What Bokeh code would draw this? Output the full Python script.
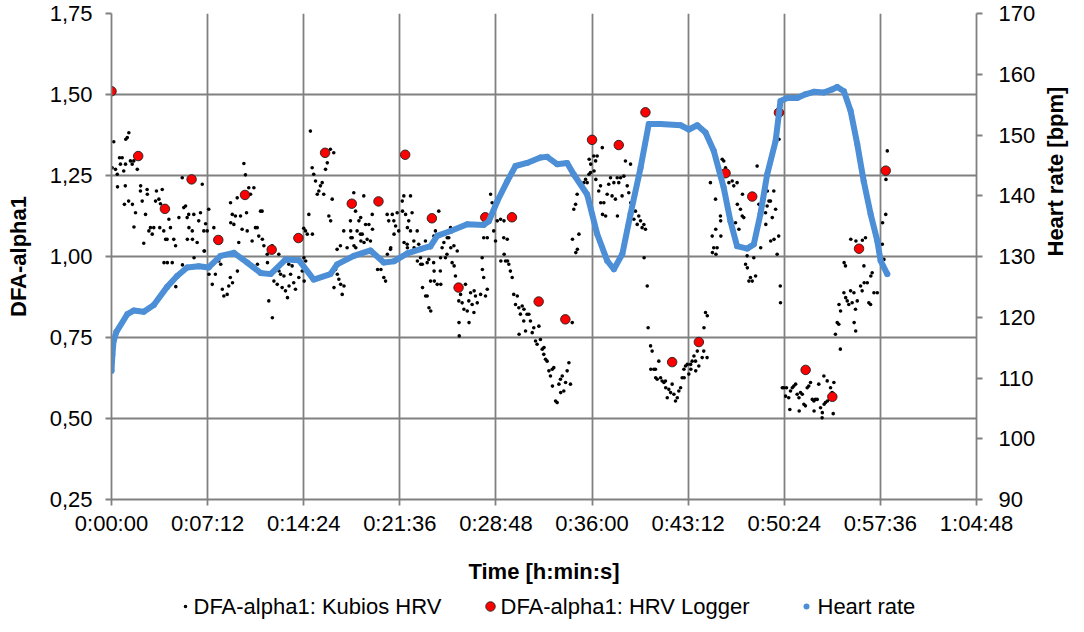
import math
from bokeh.plotting import figure
from bokeh.layouts import column
from bokeh.models import Range1d, LinearAxis, FixedTicker, ColumnDataSource
from bokeh.core.properties import value
from bokeh.embed import file_html
from bokeh.resources import INLINE

# ---------------- data ----------------
x_ticks = [0, 432, 864, 1296, 1728, 2160, 2592, 3024, 3456, 3888]
x_tick_labels = ["0:00:00", "0:07:12", "0:14:24", "0:21:36", "0:28:48",
                 "0:36:00", "0:43:12", "0:50:24", "0:57:36", "1:04:48"]
y_ticks = [0.25, 0.5, 0.75, 1.0, 1.25, 1.5, 1.75]
y_tick_labels = ["0,25", "0,50", "0,75", "1,00", "1,25", "1,50", "1,75"]
hr_ticks = [90, 100, 110, 120, 130, 140, 150, 160, 170]
legend_labels = ["DFA-alpha1: Kubios HRV", "DFA-alpha1: HRV Logger", "Heart rate"]

# DFA-alpha1 from HRV Logger (time in s, value)
logger_t = [0, 120, 240, 360, 480, 600, 720, 840, 960, 1080, 1200, 1320, 1440, 1560, 1680,
            1800, 1920, 2040, 2160, 2280, 2400, 2520, 2640, 2760, 2880, 3000, 3120, 3240, 3360, 3480]
logger_v = [1.51, 1.31, 1.147, 1.238, 1.051, 1.19, 1.021, 1.057, 1.32, 1.163, 1.17, 1.314, 1.118, 0.904, 1.121,
            1.121, 0.861, 0.806, 1.36, 1.344, 1.445, 0.674, 0.736, 1.257, 1.185, 1.444, 0.65, 0.567, 1.024, 1.265]

# Heart rate (time in s, bpm)
hr_t = [0, 4, 9, 22, 71, 100, 145, 190, 250, 295, 340, 392, 437, 490, 550, 610, 670, 715, 782, 842,
        909, 984, 1014, 1089, 1164, 1224, 1269, 1329, 1389, 1434, 1464, 1524, 1599, 1673, 1696, 1734,
        1779, 1816, 1868, 1928, 1958, 2003, 2048, 2078, 2138, 2183, 2228, 2258, 2296, 2333, 2378, 2415,
        2468, 2558, 2595, 2633, 2670, 2707, 2752, 2782, 2812, 2857, 2887, 2917, 2947, 2985, 3007, 3037,
        3082, 3119, 3157, 3202, 3239, 3262, 3292, 3322, 3352, 3381, 3412, 3442, 3457, 3487]
hr_v = [111.2, 113.8, 116.0, 117.6, 120.5, 121.1, 120.9, 122.0, 125.0, 126.8, 128.2, 128.4, 128.2, 130.1,
        130.6, 129.0, 127.3, 127.1, 129.5, 129.4, 126.2, 127.1, 128.7, 130.1, 131.0, 129.0, 129.2, 130.5,
        131.2, 131.7, 133.4, 134.2, 135.3, 135.2, 135.8, 139.1, 142.4, 144.9, 145.4, 146.3, 146.4, 145.2,
        145.4, 143.5, 140.2, 133.7, 129.3, 127.9, 130.4, 137.0, 144.6, 151.8, 151.8, 151.6, 150.9, 151.6,
        150.4, 147.4, 141.3, 135.8, 131.7, 131.3, 132.0, 137.0, 143.5, 149.0, 155.6, 156.1, 156.1, 156.7,
        157.1, 157.0, 157.5, 157.9, 157.2, 154.0, 148.5, 142.4, 137.0, 132.6, 129.3, 127.1]

# DFA-alpha1 from Kubios HRV: (time in s, value) pairs
kubios_points = [
    (10, 1.354), (3, 1.274), (18, 1.269), (26, 1.254), (27, 1.215), (36, 1.305), (48, 1.305), (40, 1.285), (55, 1.264), (63, 1.285),
    (71, 1.367), (78, 1.382), (64, 1.362), (85, 1.295), (93, 1.285), (100, 1.295), (62, 1.218), (58, 1.161), (77, 1.171), (94, 1.161),
    (101, 1.091), (108, 1.135), (116, 1.269), (130, 1.202), (131, 1.218), (138, 1.171), (145, 1.041), (153, 1.13), (160, 1.207), (161, 1.192),
    (168, 1.079), (175, 1.089), (183, 1.069), (190, 1.089), (198, 1.171), (202, 1.202), (213, 1.177), (217, 1.089), (220, 1.163), (228, 1.207),
    (235, 1.079), (243, 1.053), (250, 1.053), (258, 1.115), (265, 1.089), (280, 1.053), (288, 1.033), (303, 1.12), (318, 1.243), (325, 1.151),
    (333, 1.156), (340, 1.12), (341, 1.053), (347, 1.13), (348, 1.089), (363, 1.079), (364, 1.053), (370, 1.13), (385, 1.043), (392, 1.11),
    (400, 1.135), (408, 1.223), (415, 1.079), (418, 1.017), (423, 1.101), (430, 1.079),
    (236, 0.981), (251, 0.981), (273, 0.981), (289, 0.907), (319, 0.974), (371, 0.996), (416, 1.017),
    (437, 1.146), (460, 1.089), (475, 1.048), (490, 1.043), (535, 1.166), (536, 1.104), (543, 1.13), (550, 1.099), (557, 1.125), (565, 1.181),
    (572, 1.043), (580, 1.125), (587, 1.084), (595, 1.287), (602, 1.252), (607, 1.135), (610, 1.079), (617, 1.212), (625, 1.192), (632, 1.048),
    (640, 1.212), (647, 1.089), (655, 1.089), (662, 1.063), (670, 1.14), (677, 1.14), (678, 1.053), (685, 1.033), (700, 1.007), (722, 1.033),
    (752, 1.007), (790, 0.986), (797, 0.976), (812, 0.971), (864, 1.087), (872, 1.079), (865, 0.996), (873, 0.986),
    (438, 0.945), (453, 0.914), (467, 0.945), (482, 0.986), (491, 0.976), (498, 0.899), (505, 0.878), (520, 0.883), (527, 0.909), (534, 0.935),
    (544, 0.919), (566, 0.955), (656, 0.976), (701, 0.981), (707, 0.863), (723, 0.811), (730, 0.924), (745, 0.914), (760, 0.945), (767, 0.904),
    (782, 0.894), (791, 0.873), (798, 0.909), (805, 0.945), (819, 0.919), (827, 0.899), (842, 0.935), (857, 0.955), (866, 0.924), (775, 0.94), (753, 0.955),
    (894, 1.387), (902, 1.274), (909, 1.254), (917, 1.233), (925, 1.192), (932, 1.202), (939, 1.218), (947, 1.228), (954, 1.192), (962, 1.269),
    (970, 1.289), (984, 1.331), (999, 1.32), (977, 1.125), (985, 1.11), (992, 1.177), (887, 1.13), (880, 1.069), (903, 1.069), (1014, 1.022),
    (1029, 1.033), (1044, 1.079), (1059, 1.027), (1074, 1.11), (1082, 1.058), (1089, 1.197), (1097, 1.14), (1104, 1.079), (1112, 1.11), (1119, 1.069),
    (1000, 0.904), (1015, 0.945), (1022, 0.93), (1030, 0.914), (1037, 0.883), (1045, 0.909), (1007, 0.96),
    (1120, 1.12), (1134, 1.187), (1142, 1.099), (1157, 1.099), (1172, 1.13), (1173, 1.084), (1075, 1.079), (1076, 1.058), (1090, 1.033), (1098, 1.027),
    (1121, 1.048), (1127, 1.069), (1135, 1.043), (1149, 1.053), (1164, 1.048), (1239, 1.13), (1246, 1.11), (1254, 1.022), (1262, 1.13), (1269, 1.11),
    (1277, 1.094), (1284, 1.135), (1291, 1.079), (1307, 1.171), (1314, 1.187), (1322, 1.13), (1329, 1.038), (1336, 1.11), (1344, 1.187), (1351, 1.135),
    (1359, 1.048), (1374, 1.079), (1381, 1.038), (1389, 0.996), (1397, 0.976), (1411, 1.048), (1419, 0.981), (1426, 0.991), (1434, 1.027), (1449, 1.063),
    (1456, 1.079), (1471, 1.14), (1479, 0.996), (1486, 1.027), (1494, 1.043), (1509, 1.058), (1524, 1.089),
    (1196, 0.96), (1211, 0.96), (1224, 0.935), (1232, 0.924), (1240, 1.007), (1255, 1.027), (1270, 1.069), (1315, 1.043), (1330, 1.027), (1360, 1.027),
    (1375, 0.986), (1390, 0.976), (1398, 0.904), (1412, 0.878), (1427, 0.842), (1435, 0.832), (1450, 0.955), (1451, 0.924), (1480, 0.914), (1501, 0.996),
    (1525, 1.027), (1531, 0.981), (1516, 1.058), (1308, 1.14), (1330, 1.089), (1344, 1.079), (1539, 1.033), (1554, 1.017),
    (1419, 0.878), (1434, 0.924), (1448, 0.981), (1464, 0.914), (1478, 0.955), (1508, 1.007), (1540, 0.971), (1546, 0.94), (1561, 0.863),
    (1562, 0.796), (1563, 0.755), (1569, 0.883), (1576, 0.857), (1584, 0.837), (1591, 0.914), (1599, 0.832), (1606, 0.863), (1607, 0.796), (1614, 0.888),
    (1621, 0.852), (1629, 0.827), (1630, 0.894), (1636, 0.878), (1644, 0.857), (1659, 0.883), (1666, 0.996), (1667, 0.96), (1673, 0.935), (1681, 0.878), (1689, 0.899),
    (1673, 1.058), (1689, 1.058), (1704, 1.192), (1711, 1.166), (1718, 1.079), (1726, 1.048), (1734, 1.11), (1749, 1.115), (1763, 1.058), (1764, 1.11), (1779, 1.053), (1771, 0.986),
    (1750, 0.986), (1765, 1.007), (1780, 0.986), (1786, 0.976), (1793, 0.955), (1801, 0.935), (1808, 0.883), (1816, 0.852), (1824, 0.878), (1831, 0.842),
    (1838, 0.822), (1846, 0.847), (1853, 0.801), (1832, 0.76), (1861, 0.77), (1868, 0.822), (1876, 0.822), (1883, 0.801), (1891, 0.765), (1898, 0.78),
    (1906, 0.739), (1913, 0.729), (1921, 0.785), (1928, 0.744), (1936, 0.714), (1943, 0.698), (1951, 0.683), (1958, 0.677), (1966, 0.647), (1973, 0.631),
    (1981, 0.652), (1988, 0.657), (1996, 0.554), (2003, 0.549), (2011, 0.606), (2018, 0.621), (2026, 0.631), (2033, 0.585), (2041, 0.611), (2048, 0.647),
    (2056, 0.672), (2063, 0.606), (2071, 0.796), (1982, 0.6), (2019, 0.58), (1944, 0.719), (1854, 0.837),
    (2078, 1.146), (2086, 1.161), (2093, 1.192), (2072, 1.053), (2101, 1.069), (2087, 1.012), (2094, 1.022), (2123, 1.228), (2131, 1.238), (2138, 1.228),
    (2146, 1.254), (2153, 1.259), (2147, 1.3), (2154, 1.285), (2168, 1.31), (2176, 1.295), (2183, 1.31), (2169, 1.264), (2177, 1.238), (2190, 1.202),
    (2198, 1.218), (2206, 1.336), (2207, 1.13), (2221, 1.125), (2228, 1.192), (2235, 1.223), (2243, 1.243), (2250, 1.187), (2258, 1.228), (2265, 1.177),
    (2273, 1.243), (2274, 1.125), (2280, 1.228), (2288, 1.243), (2295, 1.187), (2303, 1.248), (2310, 1.295), (2318, 1.218), (2325, 1.197), (2333, 1.285),
    (2334, 1.166), (2340, 1.146), (2348, 1.115), (2355, 1.14), (2363, 1.099), (2370, 1.125), (2378, 1.11), (2385, 1.089), (2393, 1.099), (2400, 1.084),
    (2394, 0.996), (2408, 0.909), (2412, 0.78), (2199, 1.166), (2213, 1.166),
    (2423, 0.724), (2430, 0.708), (2424, 0.652), (2438, 0.652), (2445, 0.652), (2460, 0.677), (2446, 0.626), (2453, 0.621), (2468, 0.626), (2475, 0.616),
    (2483, 0.611), (2490, 0.616), (2491, 0.595), (2498, 0.564), (2505, 0.59), (2513, 0.58), (2520, 0.606), (2528, 0.575), (2535, 0.554), (2543, 0.564),
    (2550, 0.585), (2558, 0.595), (2565, 0.626), (2573, 0.652), (2580, 0.662), (2595, 0.637), (2588, 0.667), (2603, 0.667), (2610, 0.677), (2618, 0.693),
    (2625, 0.677), (2633, 0.708), (2640, 0.662), (2574, 0.626), (2604, 0.652), (2626, 0.647), (2655, 0.688), (2662, 0.708), (2677, 0.688), (2663, 0.78),
    (2670, 0.827), (2678, 0.817),
    (2692, 1.228), (2715, 1.177), (2737, 1.125), (2738, 1.11), (2745, 1.3), (2752, 1.295), (2760, 1.274), (2767, 1.264), (2775, 1.228), (2790, 1.233),
    (2797, 1.218), (2812, 1.228), (2700, 1.063), (2716, 1.084), (2739, 1.063), (2813, 1.161), (2827, 1.146), (2835, 1.125), (2842, 1.12), (2820, 1.084),
    (2857, 1.002), (2887, 0.996), (2858, 0.965), (2872, 0.935), (2865, 0.924), (2880, 0.924), (2895, 0.94), (2902, 1.279), (2910, 1.161), (2917, 1.146),
    (2932, 1.181), (2940, 1.135), (2947, 1.156), (2962, 1.171), (2970, 1.12), (2977, 1.202), (2985, 1.146), (2941, 1.099), (2918, 1.027), (2978, 1.053),
    (2999, 1.063), (2992, 1.007), (3000, 1.362), (2707, 1.027), (2701, 1.012), (2722, 1.027), (2717, 1.007), (2805, 1.104), (2836, 1.192), (2948, 1.202),
    (2955, 1.171), (2963, 1.048), (2850, 0.976), (3006, 0.909), (3007, 0.857),
    (3015, 0.595), (3022, 0.595), (3034, 0.595), (3030, 0.569), (3044, 0.564), (3052, 0.585), (3049, 0.528), (3060, 0.595), (3067, 0.6), (3075, 0.606),
    (3082, 0.575), (3090, 0.564), (3091, 0.523), (3097, 0.58), (3105, 0.575), (3112, 0.544), (3119, 0.539), (3127, 0.595), (3134, 0.6), (3142, 0.611),
    (3150, 0.559), (3157, 0.554), (3164, 0.559), (3158, 0.523), (3172, 0.559), (3179, 0.606), (3187, 0.533), (3194, 0.502), (3195, 0.518), (3202, 0.631),
    (3203, 0.544), (3209, 0.549), (3217, 0.616), (3218, 0.554), (3232, 0.595), (3239, 0.58), (3247, 0.611), (3244, 0.515),
    (3254, 0.76), (3276, 0.714), (3262, 0.796), (3269, 0.791), (3270, 0.852), (3277, 0.832), (3292, 0.888), (3299, 0.971), (3300, 0.873), (3307, 0.863),
    (3314, 0.852), (3322, 0.894), (3329, 0.857), (3337, 0.888), (3344, 0.837), (3338, 0.796), (3345, 0.77), (3352, 0.863), (3367, 0.909), (3374, 0.894),
    (3382, 0.971), (3383, 0.919), (3397, 0.919), (3404, 0.857), (3412, 0.852), (3413, 0.94), (3419, 0.95), (3427, 0.888), (3442, 0.888),
    (3368, 1.027), (3389, 1.058), (3465, 1.038), (3472, 0.991), (3480, 1.13), (3487, 1.326), (3481, 1.238), (3323, 1.053), (3346, 1.048), (3375, 1.05),
    (3293, 0.981), (3466, 1.104),
]
kubios_t = [pt[0] for pt in kubios_points]
kubios_v = [pt[1] for pt in kubios_points]

# ---------------- styling ----------------
FONT = "Liberation Sans"
GRID = "#808080"
BLUE = "#4C8FD6"
RED = "#FF0000"
W = 1084
BORDER_L, BORDER_R = 111, 108
LEG_H = 40

p = figure(width=W, height=632 - LEG_H,
           min_border_left=BORDER_L, min_border_right=BORDER_R, min_border_top=13, min_border_bottom=93,
           x_range=Range1d(0, 3888), y_range=Range1d(0.25, 1.75),
           output_backend="svg", toolbar_location=None)
p.outline_line_color = None
p.extra_y_ranges = {"hr": Range1d(90, 170)}

src_k = ColumnDataSource(dict(t=kubios_t, v=kubios_v))
src_l = ColumnDataSource(dict(t=logger_t, v=logger_v))
src_h = ColumnDataSource(dict(t=hr_t, v=hr_v))

p.scatter("t", "v", source=src_k, size=3.6, color="black", line_color=None)
p.scatter("t", "v", source=src_l, size=9.5, fill_color=RED, line_color="#202020", line_width=0.9)
p.line("t", "v", source=src_h, y_range_name="hr", color=BLUE, line_width=6, line_join="round", line_cap="round")
p.scatter("t", "v", source=src_h, y_range_name="hr", size=6, color=BLUE, line_color=None)

xa = p.xaxis[0]
xa.ticker = FixedTicker(ticks=x_ticks)
xa.major_label_overrides = {t: lab for t, lab in zip(x_ticks, x_tick_labels)}
xa.axis_label = "Time [h:min:s]"
xa.major_label_standoff = 5
xa.axis_label_standoff = 20

ya = p.yaxis[0]
ya.ticker = FixedTicker(ticks=y_ticks)
ya.major_label_overrides = {t: lab for t, lab in zip(y_ticks, y_tick_labels)}
ya.axis_label = "DFA-alpha1"
ya.major_label_standoff = 13
ya.axis_label_standoff = 16

ra = LinearAxis(y_range_name="hr", ticker=FixedTicker(ticks=hr_ticks), axis_label="Heart rate [bpm]")
ra.axis_label_orientation = math.pi / 2
ra.major_label_standoff = 16
ra.axis_label_standoff = 17
p.add_layout(ra, "right")

for ax in (xa, ya, ra):
    ax.axis_line_color = GRID
    ax.axis_line_width = 1.8
    ax.major_tick_line_color = GRID
    ax.major_tick_line_width = 1.8
    ax.major_tick_out = 6
    ax.major_tick_in = 0
    ax.minor_tick_line_color = None
    ax.major_label_text_font = FONT
    ax.major_label_text_font_size = "22px"
    ax.major_label_text_color = "black"
    ax.axis_label_text_font = FONT
    ax.axis_label_text_font_size = "22px"
    ax.axis_label_text_font_style = "bold"
    ax.axis_label_text_color = "black"

p.xgrid.grid_line_color = GRID
p.xgrid.grid_line_width = 1.8
p.ygrid.grid_line_color = GRID
p.ygrid.grid_line_width = 1.8

# ---------------- legend row (separate strip under the chart, page-pixel coordinates) ----------------
leg_marker_x = [185, 490, 806]
leg_text_x = [193, 500, 817]
leg_y = 26
lf = figure(width=W, height=LEG_H, x_range=Range1d(BORDER_L, W - BORDER_R), y_range=Range1d(0, LEG_H),
            x_axis_type=None, y_axis_type=None, toolbar_location=None, output_backend="svg",
            min_border_left=BORDER_L, min_border_right=BORDER_R, min_border_top=0, min_border_bottom=0,
            outline_line_color=None)
lf.scatter(x=[leg_marker_x[0]], y=[leg_y], size=3.6, color="black", line_color=None)
lf.scatter(x=[leg_marker_x[1]], y=[leg_y], size=9.5, fill_color=RED, line_color="#202020", line_width=0.9)
lf.scatter(x=[leg_marker_x[2]], y=[leg_y], size=6, color=BLUE, line_color=None)
lf.text(x=leg_text_x, y=[leg_y] * 3, text=legend_labels, text_font=value(FONT), text_font_size="22px",
        text_color="black", text_align="left", text_baseline="middle")

layout = column(p, lf, spacing=0)
open("out.html", "w").write(file_html(layout, INLINE))
